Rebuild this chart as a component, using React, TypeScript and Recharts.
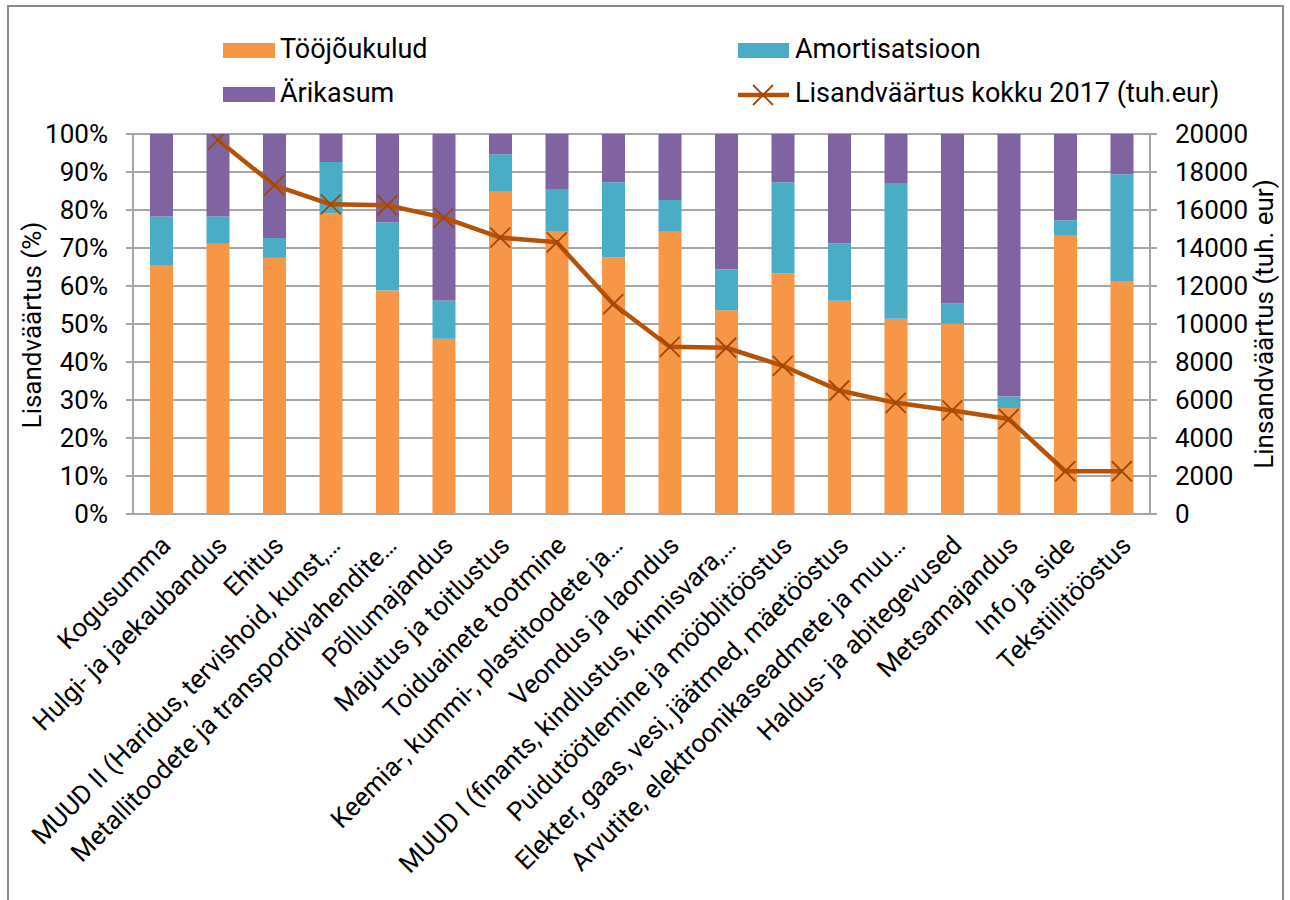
import React from 'react';
import { ComposedChart, Bar, Line, XAxis, YAxis, CartesianGrid } from 'recharts';

const categories = [
  'Kogusumma',
  'Hulgi- ja jaekaubandus',
  'Ehitus',
  'MUUD II (Haridus, tervishoid, kunst,…',
  'Metallitoodete ja transpordivahendite…',
  'Põllumajandus',
  'Majutus ja toitlustus',
  'Toiduainete tootmine',
  'Keemia-, kummi-, plastitoodete ja…',
  'Veondus ja laondus',
  'MUUD I (finants, kindlustus, kinnisvara,…',
  'Puidutöötlemine ja mööblitööstus',
  'Elekter, gaas, vesi, jäätmed, mäetööstus',
  'Arvutite, elektroonikaseadmete ja muu…',
  'Haldus- ja abitegevused',
  'Metsamajandus',
  'Info ja side',
  'Tekstiilitööstus',
];

const toojoukulud = [65.3, 71.1, 67.4, 79.1, 58.8, 46.1, 84.8, 74.5, 67.5, 74.3, 53.6, 63.3, 56.1, 51.4, 50.1, 27.9, 73.2, 61.1];
const amortisatsioon = [13.0, 7.2, 5.2, 13.5, 18.0, 10.1, 9.9, 10.8, 19.8, 8.3, 10.8, 24.0, 15.1, 35.7, 5.3, 3.0, 4.1, 28.3];
const arikasum = [21.7, 21.7, 27.4, 7.4, 23.2, 43.8, 5.3, 14.7, 12.7, 17.4, 35.6, 12.7, 28.8, 12.9, 44.6, 69.1, 22.7, 10.6];
const lisandvaartus = [null, 19700, 17300, 16300, 16250, 15600, 14550, 14300, 11050, 8800, 8750, 7800, 6500, 5850, 5450, 5000, 2250, 2250];

const pctTicks = [0, 10, 20, 30, 40, 50, 60, 70, 80, 90, 100];
const valTicks = [0, 2000, 4000, 6000, 8000, 10000, 12000, 14000, 16000, 18000, 20000];
const edgeTicks = Array.from({ length: categories.length + 1 }, (_, i) => i);

const seriesNames = {
  t: 'Tööjõukulud',
  a: 'Amortisatsioon',
  r: 'Ärikasum',
  l: 'Lisandväärtus kokku 2017 (tuh.eur)',
};
const leftTitle = 'Lisandväärtus (%)';
const rightTitle = 'Linsandväärtus (tuh. eur)';

const COLORS = {
  t: '#F79646',
  a: '#4BACC6',
  r: '#8064A2',
  line: '#B65208',
  marker: '#A0470A',
  grid: '#A6A6A6',
};
const FONT = 'Roboto, sans-serif';
const FS = 26;

const data = categories.map((name, i) => ({
  name,
  t: toojoukulud[i],
  a: amortisatsioon[i],
  r: arikasum[i],
  l: lisandvaartus[i],
}));

const CatTick = (props: any) => {
  const { x, y, payload } = props;
  return (
    <g transform={`translate(${x + 11},${y + 33})`}>
      <text transform="rotate(-45)" textAnchor="end" fontSize={FS} fontFamily={FONT} fill="#000">
        {payload.value}
      </text>
    </g>
  );
};

const XDot = (props: any) => {
  const { cx, cy, index } = props;
  if (cx == null || cy == null || isNaN(cy)) return <g key={`d${index}`} />;
  const s = 10;
  return (
    <path
      key={`d${index}`}
      d={`M${cx - s},${cy - s}L${cx + s},${cy + s}M${cx + s},${cy - s}L${cx - s},${cy + s}`}
      stroke={COLORS.marker}
      strokeWidth={1.8}
      fill="none"
    />
  );
};

export default function App() {
  return (
    <div style={{ position: 'fixed', left: 0, top: 0, width: 1290, height: 900, overflow: 'hidden', background: '#fff' }}>
      <div
        style={{
          position: 'absolute',
          left: 7,
          top: 5,
          width: 1277,
          height: 1000,
          border: '2px solid #8C8C8C',
          boxSizing: 'border-box',
        }}
      />
      <div style={{ position: 'absolute', left: 0, top: 0 }}>
        <ComposedChart width={1290} height={900} data={data} margin={{ top: 134, right: 0, bottom: 0, left: 0 }}>
          <CartesianGrid xAxisId="cat" yAxisId="pct" vertical={false} stroke={COLORS.grid} strokeWidth={2} />
          <XAxis
            xAxisId="edges"
            type="number"
            domain={[0, categories.length]}
            ticks={edgeTicks}
            allowDataOverflow
            height={0}
            tickSize={8}
            axisLine={{ stroke: COLORS.grid, strokeWidth: 2 }}
            tickLine={{ stroke: COLORS.grid, strokeWidth: 2 }}
            tick={() => <g />}
          />
          <XAxis
            xAxisId="cat"
            dataKey="name"
            height={386}
            interval={0}
            axisLine={false}
            tickLine={false}
            tickSize={0}
            tickMargin={0}
            tick={<CatTick />}
          />
          <YAxis
            yAxisId="pct"
            width={133}
            domain={[0, 100]}
            ticks={pctTicks}
            allowDataOverflow
            tickFormatter={(v: number) => `${v}%`}
            tickSize={7}
            tickMargin={18}
            axisLine={{ stroke: COLORS.grid, strokeWidth: 2 }}
            tickLine={{ stroke: COLORS.grid, strokeWidth: 2 }}
            tick={{ fill: '#000', fontSize: FS, fontFamily: FONT }}
          />
          <YAxis
            yAxisId="val"
            orientation="right"
            width={140}
            domain={[0, 20000]}
            ticks={valTicks}
            allowDataOverflow
            tickSize={7}
            tickMargin={18}
            axisLine={{ stroke: COLORS.grid, strokeWidth: 2 }}
            tickLine={{ stroke: COLORS.grid, strokeWidth: 2 }}
            tick={{ fill: '#000', fontSize: FS, fontFamily: FONT }}
          />
          <Bar xAxisId="cat" yAxisId="pct" dataKey="t" name={seriesNames.t} stackId="s" fill={COLORS.t} barSize={23} isAnimationActive={false} />
          <Bar xAxisId="cat" yAxisId="pct" dataKey="a" name={seriesNames.a} stackId="s" fill={COLORS.a} barSize={23} isAnimationActive={false} />
          <Bar xAxisId="cat" yAxisId="pct" dataKey="r" name={seriesNames.r} stackId="s" fill={COLORS.r} barSize={23} isAnimationActive={false} />
          <Line
            xAxisId="cat"
            yAxisId="val"
            type="linear"
            dataKey="l"
            name={seriesNames.l}
            stroke={COLORS.line}
            strokeWidth={4.5}
            strokeLinejoin="round"
            dot={<XDot />}
            activeDot={false}
            isAnimationActive={false}
          />
        </ComposedChart>
      </div>
      <svg width={1290} height={900} style={{ position: 'absolute', left: 0, top: 0, pointerEvents: 'none' }}>
        <g fontFamily={FONT} fontSize={27} fill="#000">
          <rect x={223} y={43} width={52} height={15} fill={COLORS.t} />
          <text x={280} y={58}>{seriesNames.t}</text>
          <rect x={223} y={87} width={52} height={15} fill={COLORS.r} />
          <text x={280} y={102}>{seriesNames.r}</text>
          <rect x={738} y={43} width={51} height={15} fill={COLORS.a} />
          <text x={795} y={58}>{seriesNames.a}</text>
          <line x1={738} y1={95} x2={789} y2={95} stroke={COLORS.line} strokeWidth={4.5} />
          <path d="M753,85L773,105M773,85L753,105" stroke={COLORS.marker} strokeWidth={1.8} fill="none" />
          <text x={795} y={102}>{seriesNames.l}</text>
        </g>
        <g fontFamily={FONT} fontSize={FS} fill="#000">
          <text transform="translate(41,325) rotate(-90)" textAnchor="middle">{leftTitle}</text>
          <text transform="translate(1273,324) rotate(-90)" textAnchor="middle">{rightTitle}</text>
        </g>
      </svg>
    </div>
  );
}
